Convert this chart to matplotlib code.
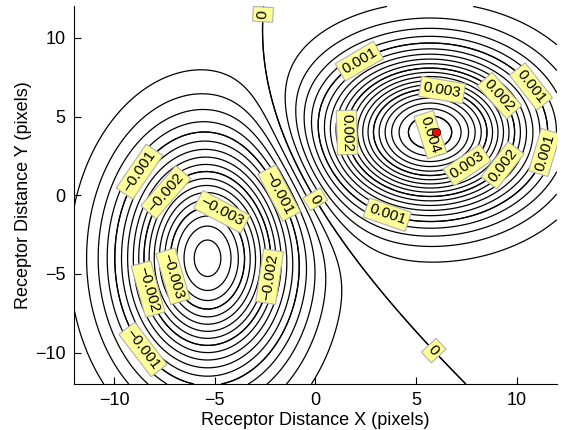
import numpy as np
import matplotlib
matplotlib.use('Agg')
import matplotlib.pyplot as plt

# ---- receptive-field blobs ----
blob_cx = [5.7, -5.35]
blob_cy = [4.0, -4.0]
blob_amp = [0.0042, -0.0037]
blob_sx = [3.45, 2.85]
blob_sy = [3.35, 5.0]

# contour levels
level_lo, level_hi, level_step = -0.0036, 0.0042, 0.0002
label_levels = [-0.003, -0.002, -0.001, 0.0, 0.001, 0.002, 0.003, 0.004]

# where the labels sit (data coords)
label_positions = [
    (-2.66, 11.5), (0.07, -0.2), (5.7, -10.1),
    (2.2, 8.5), (11.0, 7.2), (11.7, 2.6), (3.55, -1.35),
    (1.86, 4.0), (9.3, 6.5), (9.5, 1.7),
    (6.3, 6.7), (7.6, 1.8),
    (4.9, 4.0),
    (-8.86, 1.6), (-1.76, 0.16), (-8.56, -9.8),
    (-7.57, 0.35), (-8.4, -6.0), (-2.16, -5.2),
    (-4.58, -0.92), (-7.2, -5.2),
]
# the innermost label sits over the ring centre in the reference
inner_label_xy = (5.72, 3.85)
inner_label_rot = -72

peak_x = [6.0]
peak_y = [4.0]

ticks = [-10, -5, 0, 5, 10]
x_range = (-12, 12)
y_range = (-12, 12)

plt.rcParams['font.family'] = ['Liberation Sans', 'DejaVu Sans']

xs = np.linspace(x_range[0], x_range[1], 481)
ys = np.linspace(y_range[0], y_range[1], 481)
X, Y = np.meshgrid(xs, ys)
Z = np.zeros_like(X)
for cx, cy, a, sx, sy in zip(blob_cx, blob_cy, blob_amp, blob_sx, blob_sy):
    Z += a * np.exp(-((X - cx) ** 2) / (2 * sx ** 2) - ((Y - cy) ** 2) / (2 * sy ** 2))

n_lo = int(round(level_lo / level_step))
n_hi = int(round(level_hi / level_step))
levels = np.round(np.arange(n_lo, n_hi + 1) * level_step, 7)

fig = plt.figure(figsize=(5.63, 4.30), dpi=100)
ax = fig.add_axes([0.131, 0.107, 0.858, 0.878])

cs = ax.contour(X, Y, Z, levels=levels, colors='black', linewidths=0.9,
                linestyles='solid')
cs_lbl = ax.contour(X, Y, Z, levels=label_levels, colors='black', linewidths=0.9,
                    linestyles='solid')


def fmt(v):
    if abs(v) < 1e-9:
        return '0'
    s = f'{abs(v):g}'
    return ('\u2212' + s) if v < 0 else s


texts = cs_lbl.clabel(manual=label_positions, fmt=fmt,
                      inline=False, fontsize=11)
top_label = fmt(max(label_levels))
for t in texts:
    t.set_bbox(dict(facecolor='#ffff99', edgecolor='#b0b0b0', linewidth=0.8,
                    boxstyle='square,pad=0.2'))
    t.set_color('black')
    t.set_zorder(5)
    if t.get_text() == top_label:
        t.set_position(inner_label_xy)
        t.set_rotation(inner_label_rot)

ax.plot(peak_x, peak_y, 'o', markerfacecolor='red', markeredgecolor='black',
        markersize=6, markeredgewidth=0.6, zorder=10)

ax.set_xlim(*x_range)
ax.set_ylim(*y_range)
ax.set_xticks(ticks)
ax.set_yticks(ticks)
ax.spines['top'].set_visible(False)
ax.spines['right'].set_visible(False)
ax.tick_params(direction='in', length=5, labelsize=13, pad=6)
ax.set_xlabel('Receptor Distance X (pixels)', fontsize=13, labelpad=2)
ax.set_ylabel('Receptor Distance Y (pixels)', fontsize=13, labelpad=2)

fig.savefig('out.png', dpi=100)
